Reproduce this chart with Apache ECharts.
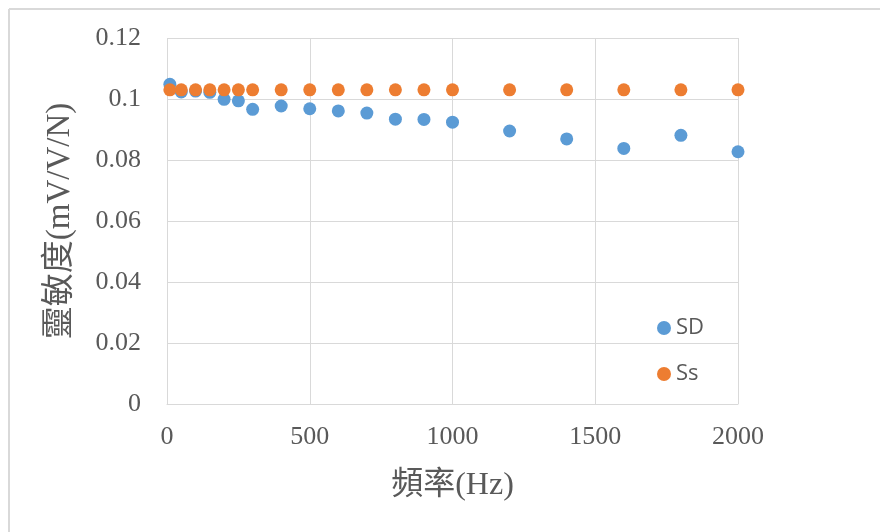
<!DOCTYPE html>
<html><head><meta charset="utf-8">
<script src="https://cdn.jsdelivr.net/npm/echarts@6/dist/echarts.min.js"></script>
<style>html,body{margin:0;padding:0;background:#fff}#c{width:880px;height:532px}</style>
</head><body><div id="c"></div>
<script>
var freq = [10,50,100,150,200,250,300,400,500,600,700,800,900,1000,1200,1400,1600,1800,2000];
var sdValues = [0.1048,0.1023,0.1026,0.1022,0.0999,0.0994,0.0966,0.0977,0.0968,0.0961,0.0954,0.0934,0.0933,0.0924,0.0895,0.0869,0.0838,0.0881,0.0827];
var ssValues = [0.1030,0.1030,0.1030,0.1030,0.1030,0.1030,0.1030,0.1030,0.1030,0.1030,0.1030,0.1030,0.1030,0.1030,0.1030,0.1030,0.1030,0.1030,0.1030];
var seriesNames = ['SD','Ss'];
var xTitle = '頻率(Hz)';
var yTitle = '靈敏度(mV/V/N)';

function pairs(xs, ys){ return xs.map(function(x,i){ return [x, ys[i]]; }); }
var serif = '"Liberation Serif","Noto Sans CJK TC",serif';
var chart = echarts.init(document.getElementById('c'));
chart.setOption({
  animation:false,
  backgroundColor:'#fff',
  grid:{left:167,right:142,top:38,bottom:128,containLabel:false},
  graphic:[
    {type:'line',shape:{x1:9,y1:9,x2:880,y2:9},style:{stroke:'#d9d9d9',lineWidth:2}},
    {type:'line',shape:{x1:9,y1:9,x2:9,y2:532},style:{stroke:'#d9d9d9',lineWidth:2}}
  ],
  legend:{orient:'vertical',left:652,top:312,itemGap:24,itemWidth:14,itemHeight:14,
    icon:'circle',textStyle:{fontFamily:'"Open Sans","Liberation Sans",sans-serif',fontSize:22,color:'#595959'},
    data:seriesNames},
  xAxis:{type:'value',min:0,max:2000,interval:500,
    name:xTitle,nameLocation:'middle',nameGap:66,
    nameTextStyle:{fontFamily:serif,fontSize:32,color:'#595959'},
    axisLine:{show:true,lineStyle:{color:'#d9d9d9'}},axisTick:{show:false},
    axisLabel:{fontFamily:serif,fontSize:26,color:'#595959',margin:20,formatter:function(v){return String(v);}},
    splitLine:{show:true,lineStyle:{color:'#d9d9d9',width:1}}},
  yAxis:{type:'value',min:0,max:0.12,interval:0.02,
    name:yTitle,nameLocation:'middle',nameGap:90,
    nameTextStyle:{fontFamily:serif,fontSize:33,color:'#595959'},
    axisLine:{show:false},axisTick:{show:false},
    axisLabel:{fontFamily:serif,fontSize:26,color:'#595959',margin:26},
    splitLine:{show:true,lineStyle:{color:'#d9d9d9',width:1}}},
  series:[
    {name:seriesNames[0],type:'scatter',symbol:'circle',symbolSize:13,itemStyle:{color:'#5B9BD5',opacity:1},data:pairs(freq,sdValues)},
    {name:seriesNames[1],type:'scatter',symbol:'circle',symbolSize:13,itemStyle:{color:'#ED7D31',opacity:1},data:pairs(freq,ssValues)}
  ]
});
</script></body></html>
